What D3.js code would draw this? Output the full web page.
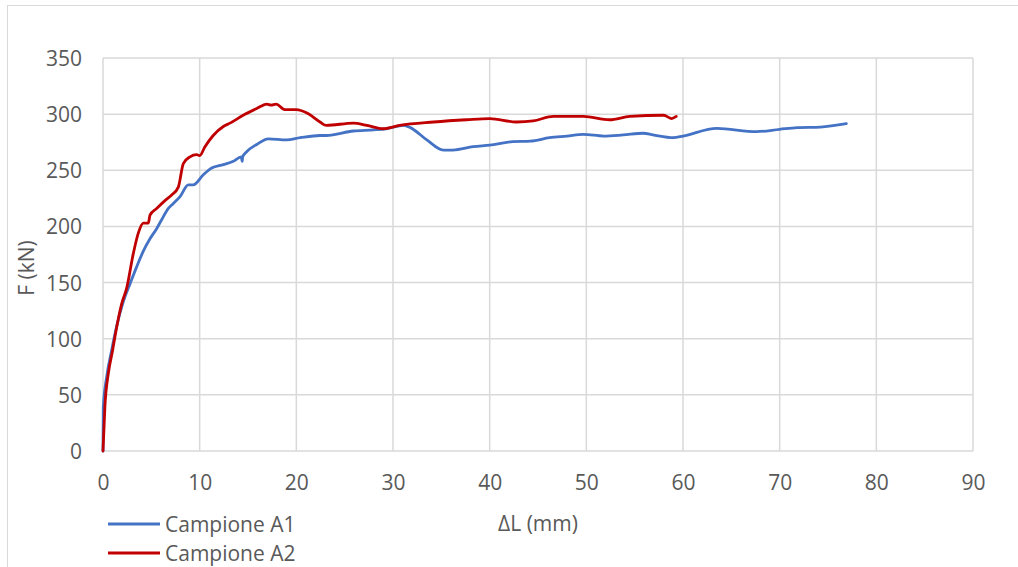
<!DOCTYPE html>
<html>
<head>
<meta charset="utf-8">
<script src="https://cdn.jsdelivr.net/npm/d3@7"></script>
<style>
  html, body { margin: 0; padding: 0; background: #fff; }
  svg { display: block; }
  text { font-family: "Open Sans", "Noto Sans", sans-serif; fill: #595959; }
</style>
</head>
<body>
<svg id="chart" width="1018" height="567"></svg>
<script>
// Force vs elongation for the two specimens
const seriesNames = ["Campione A1", "Campione A2"];
const seriesColors = ["#4472C4", "#C00000"];

const a1Elong = [0, 0.03, 0.38, 0.9, 1.41, 2.1, 2.8, 3.48, 4.17, 4.86, 5.55, 6.07, 6.76, 7.28, 7.97, 8.83, 9.34, 10.38, 11.24, 12.45, 13.48, 14.3, 14.4, 14.45, 14.86, 15.9, 17.1, 19.0, 20.4, 22.45, 23.1, 25.9, 28.0, 29.3, 31.1, 31.8, 33.5, 35.2, 36.2, 38.3, 40.0, 42.4, 44.2, 46.2, 48.0, 49.7, 51.8, 53.8, 55.9, 56.9, 59.0, 60.0, 63.5, 67.6, 70.0, 71.8, 74.2, 76.9];
const a1Force = [0, 39, 66, 90, 111, 133, 149, 164, 178, 189, 198, 206, 216, 220.5, 226.5, 237, 237, 246, 252, 255, 258, 262, 258, 262, 266.5, 273, 278, 277, 279, 281, 281, 285, 286, 287, 290, 288, 277, 268, 268, 271, 272.5, 275.5, 276, 279, 280.5, 282, 280.5, 281.5, 283, 281.5, 279, 280.5, 287.3, 284.4, 286.5, 288, 288.5, 291.5];

const a2Elong = [0, 0.2, 0.55, 1.0, 1.24, 1.93, 2.45, 3.14, 3.65, 4.17, 4.69, 4.86, 5.55, 6.41, 7.1, 7.79, 8.31, 9.0, 9.69, 10.0, 10.55, 11.4, 12.45, 13.14, 14.5, 15.9, 16.93, 17.4, 17.9, 18.8, 20.0, 21.1, 22.45, 23.1, 25.9, 27.3, 29.0, 30.7, 34.2, 37.6, 40.0, 42.8, 44.5, 46.6, 49.7, 52.4, 54.5, 58.0, 58.65, 58.8, 59.3];
const a2Force = [0, 40, 69, 90, 102, 131, 145, 176, 194, 203, 203, 210, 216, 223, 228, 235, 256, 262, 264, 263, 271, 281, 289, 292, 299, 305, 309, 308, 309, 304, 304, 301, 293, 290, 292, 290, 287, 290, 293, 295, 296, 293, 294, 298, 298, 295, 298, 299, 296.5, 296, 298];

const xTicks = [0, 10, 20, 30, 40, 50, 60, 70, 80, 90];
const yTicks = [0, 50, 100, 150, 200, 250, 300, 350];
const xTitle = "\u0394L (mm)";
const yTitle = "F (kN)";

const svg = d3.select("#chart");
const W = 1018, H = 567;
const plot = { left: 103, right: 973, top: 58, bottom: 451 };
const fontSize = 21;

// outer chart frame
svg.append("rect")
  .attr("x", 7.5).attr("y", 5.5)
  .attr("width", W + 20).attr("height", H + 20)
  .attr("fill", "none").attr("stroke", "#d9d9d9").attr("stroke-width", 1);

const x = d3.scaleLinear().domain([0, 90]).range([plot.left, plot.right]);
const y = d3.scaleLinear().domain([0, 350]).range([plot.bottom, plot.top]);

// gridlines
const grid = svg.append("g");
grid.selectAll("line.v").data(xTicks).join("line")
  .attr("x1", d => x(d)).attr("x2", d => x(d))
  .attr("y1", plot.top).attr("y2", plot.bottom)
  .attr("stroke", "#d9d9d9").attr("stroke-width", 1.5);
grid.selectAll("line.h").data(yTicks).join("line")
  .attr("x1", plot.left).attr("x2", plot.right)
  .attr("y1", d => y(d)).attr("y2", d => y(d))
  .attr("stroke", "#d9d9d9").attr("stroke-width", 1.5);

// axes (labels only, lines drawn by the grid)
const xAxis = svg.append("g")
  .attr("transform", `translate(0,${plot.bottom})`)
  .call(d3.axisBottom(x).tickValues(xTicks).tickSize(0).tickPadding(0));
xAxis.selectAll("text").attr("y", 39).attr("dy", null);

const yAxis = svg.append("g")
  .attr("transform", `translate(${plot.left},0)`)
  .call(d3.axisLeft(y).tickValues(yTicks).tickSize(0).tickPadding(21));
yAxis.selectAll("text").attr("dy", "0.36em");

[xAxis, yAxis].forEach(g => {
  g.select(".domain").remove();
  g.selectAll("text")
    .attr("font-family", "'Open Sans', sans-serif")
    .attr("font-size", fontSize)
    .attr("fill", "#595959");
});

// axis titles
svg.append("text")
  .attr("x", 538).attr("y", 531)
  .attr("text-anchor", "middle")
  .attr("font-size", fontSize)
  .text(xTitle);
svg.append("text")
  .attr("transform", "translate(34,268) rotate(-90)")
  .attr("text-anchor", "middle")
  .attr("font-size", fontSize)
  .text(yTitle);

// curves
const line = d3.line()
  .x(d => x(d[0]))
  .y(d => y(d[1]))
  .curve(d3.curveMonotoneX);

const series = [
  d3.zip(a1Elong, a1Force),
  d3.zip(a2Elong, a2Force)
];

svg.append("g").selectAll("path").data(series).join("path")
  .attr("d", line)
  .attr("fill", "none")
  .attr("stroke", (d, i) => seriesColors[i])
  .attr("stroke-width", 2.8)
  .attr("stroke-linejoin", "round")
  .attr("stroke-linecap", "round");

// legend
const legend = svg.append("g");
const legendY = [524, 553];
seriesNames.forEach((name, i) => {
  legend.append("line")
    .attr("x1", 108).attr("x2", 160)
    .attr("y1", legendY[i]).attr("y2", legendY[i])
    .attr("stroke", seriesColors[i]).attr("stroke-width", 3);
  legend.append("text")
    .attr("x", 165).attr("y", legendY[i] + 8)
    .attr("font-size", fontSize)
    .text(name);
});
</script>
</body>
</html>
